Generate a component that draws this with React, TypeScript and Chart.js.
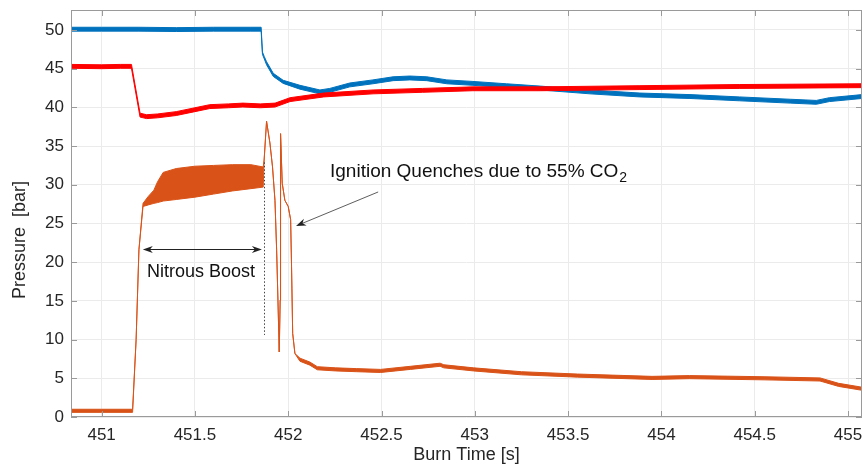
import React, { useEffect, useRef } from "react";
import { Chart, registerables } from "chart.js";

Chart.register(...registerables);

const FONT = '"Liberation Sans", Arial, Helvetica, sans-serif';
const TEXT_COLOR = "#262626";
const AXIS_COLOR = "#9a9a9a";
const GRID_COLOR = "#ebebeb";

const X_MIN = 450.836;
const X_MAX = 455.075;
const Y_MIN = 0;
const Y_MAX = 52.58;

const xTicks = [451, 451.5, 452, 452.5, 453, 453.5, 454, 454.5, 455];
const yTicks = [0, 5, 10, 15, 20, 25, 30, 35, 40, 45, 50];

const xTitle = "Burn Time [s]";
const yTitle = "Pressure  [bar]";

// Blue trace: upper / lower edge of the noisy signal
const blueTime = [450.836, 451.0, 451.2, 451.4, 451.6, 451.8, 451.855, 451.862, 451.872, 451.884, 451.92, 451.973, 452.063, 452.17, 452.223, 452.33, 452.454, 452.562, 452.652, 452.743, 452.85, 452.99, 453.17, 453.35, 453.617, 453.885, 454.153, 454.42, 454.69, 454.83, 454.9, 455.075];
const blueHigh = [50.35, 50.35, 50.35, 50.3, 50.35, 50.35, 50.35, 47.15, 46.55, 45.9, 44.4, 43.5, 42.85, 42.25, 42.45, 43.15, 43.55, 43.95, 44.05, 43.95, 43.55, 43.35, 43.05, 42.75, 42.25, 41.85, 41.65, 41.35, 41.05, 40.9, 41.25, 41.65];
const blueLow = [49.85, 49.85, 49.85, 49.8, 49.85, 49.85, 49.85, 46.85, 46.25, 45.5, 44.0, 43.1, 42.35, 41.75, 41.95, 42.65, 43.05, 43.45, 43.55, 43.45, 43.05, 42.85, 42.55, 42.25, 41.75, 41.35, 41.15, 40.85, 40.55, 40.4, 40.75, 41.15];

// Red trace
const redTime = [450.836, 451.0, 451.1, 451.16, 451.206, 451.241, 451.3, 451.4, 451.5, 451.58, 451.68, 451.757, 451.85, 451.93, 452.01, 452.19, 452.455, 452.72, 452.99, 453.35, 453.885, 454.42, 455.075];
const redHigh = [45.55, 45.5, 45.55, 45.55, 39.25, 39.05, 39.15, 39.45, 39.95, 40.35, 40.45, 40.55, 40.45, 40.55, 41.25, 41.85, 42.25, 42.45, 42.65, 42.65, 42.8, 42.95, 43.05];
const redLow = [45.05, 45.0, 45.05, 45.05, 38.75, 38.55, 38.65, 38.95, 39.45, 39.85, 39.95, 40.05, 39.95, 40.05, 40.75, 41.35, 41.75, 41.95, 42.15, 42.15, 42.3, 42.45, 42.55];

// Orange trace
const orangeTime = [450.836, 451.0, 451.166, 451.185, 451.2, 451.222, 451.25, 451.28, 451.3, 451.33, 451.4, 451.5, 451.6, 451.7, 451.8, 451.866, 451.871, 451.884, 451.902, 451.916, 451.929, 451.938, 451.945, 451.952, 451.957, 451.959, 451.968, 451.982, 452.0, 452.013, 452.018, 452.024, 452.036, 452.063, 452.116, 452.156, 452.255, 452.367, 452.495, 452.655, 452.814, 452.834, 452.994, 453.25, 453.55, 453.95, 454.15, 454.55, 454.85, 454.95, 455.075];
const orangeHigh = [1.0, 1.0, 1.0, 10.0, 21.6, 27.6, 28.5, 29.3, 30.4, 31.6, 32.1, 32.4, 32.5, 32.6, 32.6, 32.3, 33.2, 38.2, 35.4, 32.3, 28.0, 21.6, 15.1, 8.4, 15.1, 36.6, 30.2, 28.0, 27.2, 25.5, 19.4, 10.8, 8.2, 7.6, 7.1, 6.5, 6.35, 6.25, 6.15, 6.55, 6.95, 6.75, 6.35, 5.85, 5.55, 5.25, 5.35, 5.2, 5.05, 4.35, 3.85];
const orangeLow = [0.6, 0.6, 0.6, 10.0, 21.6, 27.2, 27.4, 27.6, 27.7, 27.9, 28.1, 28.4, 28.8, 29.2, 29.5, 29.7, 33.2, 38.2, 35.4, 32.3, 28.0, 21.6, 15.1, 8.4, 15.1, 36.6, 30.2, 28.0, 27.2, 25.5, 19.4, 10.8, 8.2, 7.2, 6.7, 6.1, 5.95, 5.85, 5.75, 6.15, 6.55, 6.35, 5.95, 5.45, 5.15, 4.85, 4.95, 4.8, 4.65, 3.95, 3.45];

// Annotations (data coordinates)
const boostLabel = "Nitrous Boost";
const boostArrow = { x1: 451.221, x2: 451.859, y: 21.7 };
const boostText = { x: 451.533, y: 19.0 };
const boostMarker = { x: 451.87, y1: 10.6, y2: 32.9 };
const quenchLabel = "Ignition Quenches due to 55% CO";
const quenchSub = "2";
const quenchText = { x: 452.224, y: 31.85 };
const quenchArrow = { x1: 452.482, y1: 29.07, x2: 452.042, y2: 24.68 };

const BLUE = "#0072BD";
const RED = "#FF0000";
const ORANGE = "#D95319";

function pts(t: number[], v: number[]) {
  return t.map((x, i) => ({ x, y: v[i] }));
}

function bandSets(t: number[], hi: number[], lo: number[], color: string) {
  const common = {
    borderColor: color,
    backgroundColor: color,
    borderWidth: 1,
    pointRadius: 0,
    pointHoverRadius: 0,
    tension: 0,
  };
  return [
    { ...common, data: pts(t, hi), fill: false },
    { ...common, data: pts(t, lo), fill: "-1" },
  ];
}

function arrowHead(ctx: CanvasRenderingContext2D, tx: number, ty: number, ang: number) {
  const L = 10;
  const W = 3.6;
  const back = 7;
  ctx.save();
  ctx.translate(tx, ty);
  ctx.rotate(ang);
  ctx.beginPath();
  ctx.moveTo(0, 0);
  ctx.lineTo(-L, -W);
  ctx.lineTo(-back, 0);
  ctx.lineTo(-L, W);
  ctx.closePath();
  ctx.fill();
  ctx.restore();
}

const framePlugin = {
  id: "frameAndNotes",
  afterDraw(chart: any) {
    const { ctx, chartArea } = chart;
    const { left, right, top, bottom } = chartArea;
    const xs = chart.scales.x;
    const ys = chart.scales.y;
    ctx.save();

    // Box
    ctx.strokeStyle = AXIS_COLOR;
    ctx.lineWidth = 1;
    ctx.strokeRect(left + 0.5, top + 0.5, right - left - 1, bottom - top - 1);

    // Inward ticks
    const TL = 6;
    ctx.beginPath();
    for (const v of yTicks) {
      const py = Math.round(ys.getPixelForValue(v)) + 0.5;
      ctx.moveTo(left, py);
      ctx.lineTo(left + TL, py);
      ctx.moveTo(right, py);
      ctx.lineTo(right - TL, py);
    }
    for (const v of xTicks) {
      const px = Math.round(xs.getPixelForValue(v)) + 0.5;
      ctx.moveTo(px, bottom);
      ctx.lineTo(px, bottom - TL);
      ctx.moveTo(px, top);
      ctx.lineTo(px, top + TL);
    }
    ctx.stroke();

    // Axis titles
    ctx.fillStyle = TEXT_COLOR;
    ctx.font = `18px ${FONT}`;
    ctx.textAlign = "center";
    ctx.textBaseline = "middle";
    ctx.fillText(xTitle, (left + right) / 2, 455);
    ctx.save();
    ctx.translate(20, 240);
    ctx.rotate(-Math.PI / 2);
    ctx.fillText(yTitle, 0, 0);
    ctx.restore();

    // Nitrous boost arrow
    ctx.strokeStyle = "#222";
    ctx.fillStyle = "#222";
    ctx.lineWidth = 1;
    const bx1 = xs.getPixelForValue(boostArrow.x1);
    const bx2 = xs.getPixelForValue(boostArrow.x2);
    const by = Math.round(ys.getPixelForValue(boostArrow.y)) + 0.5;
    ctx.beginPath();
    ctx.moveTo(bx1 + 6, by);
    ctx.lineTo(bx2 - 6, by);
    ctx.stroke();
    arrowHead(ctx, bx1, by, Math.PI);
    arrowHead(ctx, bx2, by, 0);

    ctx.fillStyle = "#111";
    ctx.font = `18px ${FONT}`;
    ctx.textAlign = "center";
    ctx.textBaseline = "alphabetic";
    ctx.fillText(boostLabel, xs.getPixelForValue(boostText.x), ys.getPixelForValue(boostText.y) + 7);

    // Dotted marker
    ctx.strokeStyle = "#444";
    ctx.setLineDash([1.5, 2]);
    const mx = Math.round(xs.getPixelForValue(boostMarker.x)) + 0.5;
    ctx.beginPath();
    ctx.moveTo(mx, ys.getPixelForValue(boostMarker.y2));
    ctx.lineTo(mx, ys.getPixelForValue(boostMarker.y1));
    ctx.stroke();
    ctx.setLineDash([]);

    // Quench label with subscript
    ctx.fillStyle = "#111";
    ctx.font = `19px ${FONT}`;
    ctx.textAlign = "left";
    const qx = xs.getPixelForValue(quenchText.x);
    const qy = ys.getPixelForValue(quenchText.y);
    ctx.fillText(quenchLabel, qx, qy + 7);
    const w = ctx.measureText(quenchLabel).width;
    ctx.font = `14px ${FONT}`;
    ctx.fillText(quenchSub, qx + w + 1, qy + 12);

    // Quench arrow
    const ax1 = xs.getPixelForValue(quenchArrow.x1);
    const ay1 = ys.getPixelForValue(quenchArrow.y1);
    const ax2 = xs.getPixelForValue(quenchArrow.x2);
    const ay2 = ys.getPixelForValue(quenchArrow.y2);
    const ang = Math.atan2(ay2 - ay1, ax2 - ax1);
    ctx.strokeStyle = "#333";
    ctx.fillStyle = "#222";
    ctx.lineWidth = 0.8;
    ctx.beginPath();
    ctx.moveTo(ax1, ay1);
    ctx.lineTo(ax2 - 6 * Math.cos(ang), ay2 - 6 * Math.sin(ang));
    ctx.stroke();
    arrowHead(ctx, ax2, ay2, ang);

    ctx.restore();
  },
};

export default function App() {
  const ref = useRef<HTMLCanvasElement>(null);
  useEffect(() => {
    if (!ref.current) return;
    const chart = new Chart(ref.current, {
      type: "line",
      data: {
        datasets: [
          ...bandSets(redTime, redHigh, redLow, RED),
          ...bandSets(blueTime, blueHigh, blueLow, BLUE),
          ...bandSets(orangeTime, orangeHigh, orangeLow, ORANGE),
        ] as any,
      },
      options: {
        animation: false,
        responsive: false,
        devicePixelRatio: 1,
        layout: { padding: { left: 0, top: 10, right: 2, bottom: 0 } },
        plugins: {
          legend: { display: false },
          tooltip: { enabled: false },
          filler: { propagate: false },
        },
        scales: {
          x: {
            type: "linear",
            min: X_MIN,
            max: X_MAX,
            afterBuildTicks: (axis: any) => {
              axis.ticks = xTicks.map((v) => ({ value: v }));
            },
            afterFit: (axis: any) => {
              axis.height = 51;
              axis.paddingLeft = 0;
              axis.paddingRight = 0;
              axis.paddingTop = 0;
              axis.paddingBottom = 0;
            },
            ticks: {
              autoSkip: false,
              maxRotation: 0,
              padding: 8,
              color: TEXT_COLOR,
              font: { family: FONT, size: 17 },
              callback: (v: any) => String(v),
            },
            grid: { color: GRID_COLOR, drawTicks: false, tickLength: 0 },
            border: { display: false },
          },
          y: {
            type: "linear",
            min: Y_MIN,
            max: Y_MAX,
            afterBuildTicks: (axis: any) => {
              axis.ticks = yTicks.map((v) => ({ value: v }));
            },
            afterFit: (axis: any) => {
              axis.width = 71;
              axis.paddingLeft = 0;
              axis.paddingRight = 0;
              axis.paddingTop = 0;
              axis.paddingBottom = 0;
            },
            ticks: {
              padding: 7,
              color: TEXT_COLOR,
              font: { family: FONT, size: 17 },
              callback: (v: any) => String(v),
            },
            grid: { color: GRID_COLOR, drawTicks: false, tickLength: 0 },
            border: { display: false },
          },
        },
      },
      plugins: [framePlugin],
    });
    return () => chart.destroy();
  }, []);
  return (
    <div style={{ position: "absolute", left: 0, top: 0, width: 864, height: 468, background: "#fff" }}>
      <canvas ref={ref} width={864} height={468} style={{ display: "block", width: 864, height: 468 }} />
    </div>
  );
}
